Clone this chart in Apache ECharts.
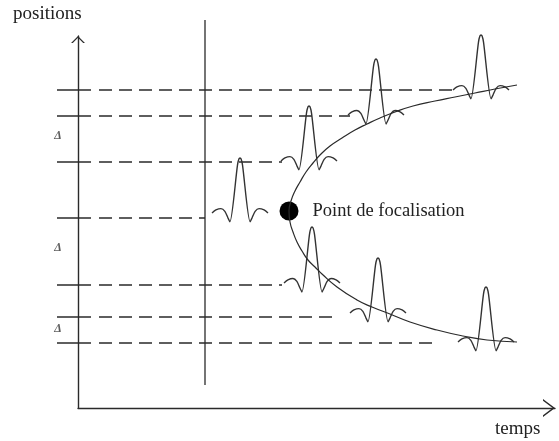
<!DOCTYPE html>
<html>
<head>
<meta charset="utf-8">
<script src="https://cdn.jsdelivr.net/npm/echarts@6/dist/echarts.min.js"></script>
<style>
html,body{margin:0;padding:0;background:#fff;}
#chart{width:559px;height:441px;}
</style>
</head>
<body>
<div id="chart"></div>
<script>
// ---- data (time units on x, position units on y) ----
var rowPositions = [318, 292, 246, 190, 123, 91, 65];
var rowEndTimes  = [374, 272, 204, 127, 204, 261, 359];
var rowStartTime = -21;
var rowTickEnd = 13;
var rowDashStart = 21;

var barrierTime = 127;
var barrierFrom = 23;
var barrierTo = 388;

var pulseTimes     = [162, 231, 298, 403, 234, 300, 408];
var pulsePositions = [195, 247, 293, 318, 125, 95, 66];
var pulseAmplitudes = [55, 55, 56, 55, 56, 55, 55];
var pulseHalfWidth = 28;
// normalised waveform
var pulseShapeU = [-1,-0.86,-0.68,-0.54,-0.43,-0.36,-0.09,-0.04,0,0.04,0.09,0.36,0.43,0.54,0.68,0.86,1];
var pulseShapeV = [0,0.055,0.08,0.03,-0.09,-0.16,0.87,0.98,1,0.98,0.87,-0.16,-0.09,0.03,0.08,0.055,0];

var curveTimes     = [439,409,385,359,332,312,294,279,259,244,237,230,224,219,215,212,211,213,217,222,228,235,242,252,264,277,289,302,317,335,357,377,397,417,439];
var curvePositions = [66,68,72,78,86,94,101,108,121,134,141,148,157,166,176,186,197,207,217,226,236,245,253,262,270,278,284,290,296,302,307,311,315,319,323];

var focusPoint = [211, 197];
var focusLabel = 'Point de focalisation';

var deltaTimes = [-20, -20, -20];
var deltaPositions = [272, 160, 79];

var xLabel = 'temps';
var yLabel = 'positions';

// ---- chart ----
var ink = '#2a2a2a';
var series = [];
function onDraw(s) { s.xAxisIndex = 1; s.yAxisIndex = 1; s.clip = false; s.silent = true; return s; }

series.push(onDraw({
  type: 'line', symbol: 'none',
  data: [[barrierTime, barrierFrom], [barrierTime, barrierTo]],
  lineStyle: {color: ink, width: 1.3}
}));

rowPositions.forEach(function (p, i) {
  series.push(onDraw({
    type: 'line', symbol: 'none',
    data: [[rowStartTime, p], [rowTickEnd, p]],
    lineStyle: {color: ink, width: 1.3}
  }));
  series.push(onDraw({
    type: 'line', symbol: 'none',
    data: [[rowDashStart, p], [rowEndTimes[i], p]],
    lineStyle: {color: ink, width: 1.3, type: [13, 7]}
  }));
});

pulseTimes.forEach(function (t, i) {
  var d = pulseShapeU.map(function (u, k) {
    return [t + u * pulseHalfWidth, pulsePositions[i] + pulseShapeV[k] * pulseAmplitudes[i]];
  });
  series.push(onDraw({
    type: 'line', symbol: 'none',
    data: d, smooth: 0.25,
    lineStyle: {color: '#333', width: 1.4}
  }));
});

series.push(onDraw({
  type: 'line', symbol: 'none', smooth: true,
  data: curveTimes.map(function (t, i) { return [t, curvePositions[i]]; }),
  lineStyle: {color: ink, width: 1.2}
}));

series.push(onDraw({
  type: 'scatter',
  data: [focusPoint], symbolSize: 19,
  itemStyle: {color: '#000', opacity: 1},
  label: {
    show: true, position: 'right', distance: 14,
    formatter: focusLabel,
    fontFamily: 'Liberation Serif', fontSize: 18.5, color: '#222'
  }
}));

series.push(onDraw({
  type: 'scatter',
  data: deltaTimes.map(function (t, i) { return [t, deltaPositions[i]]; }),
  symbolSize: 1, itemStyle: {color: 'rgba(0,0,0,0)'},
  label: {
    show: true, position: 'inside', formatter: 'Δ',
    fontFamily: 'Liberation Serif', fontStyle: 'italic', fontWeight: 'bold',
    fontSize: 12, color: '#333'
  }
}));

var hidden = {show: false};
var chart = echarts.init(document.getElementById('chart'), null, {renderer: 'canvas'});
chart.setOption({
  animation: false,
  backgroundColor: '#fff',
  grid: [
    {left: 78, top: 36, width: 477, height: 372, containLabel: false},
    {left: 57, top: 20, width: 498, height: 388, containLabel: false}
  ],
  xAxis: [{
    gridIndex: 0, type: 'value', min: 0, max: 477,
    axisLine: {
      show: true, onZero: false,
      lineStyle: {color: ink, width: 1.4},
      symbol: ['none', 'path://M0,12 L9,0 L18,12 L16.2,12 L9,2.4 L1.8,12 Z'],
      symbolSize: [18, 12], symbolOffset: [0, -6]
    },
    axisTick: hidden, axisLabel: hidden, splitLine: hidden
  }, {
    gridIndex: 1, type: 'value', min: -21, max: 477,
    axisLine: hidden, axisTick: hidden, axisLabel: hidden, splitLine: hidden
  }],
  yAxis: [{
    gridIndex: 0, type: 'value', min: 0, max: 372,
    axisLine: {
      show: true, onZero: false,
      lineStyle: {color: ink, width: 1.4},
      symbol: ['none', 'path://M0,7 L7,0 L14,7 L12.2,7 L7,1.8 L1.8,7 Z'],
      symbolSize: [14, 7], symbolOffset: [0, -3.5]
    },
    axisTick: hidden, axisLabel: hidden, splitLine: hidden
  }, {
    gridIndex: 1, type: 'value', min: 0, max: 388,
    axisLine: hidden, axisTick: hidden, axisLabel: hidden, splitLine: hidden
  }],
  graphic: [
    {type: 'text', left: 13, top: 5, style: {text: yLabel, font: '19px "Liberation Serif"', fill: '#222'}},
    {type: 'text', left: 495, top: 420, style: {text: xLabel, font: '19px "Liberation Serif"', fill: '#222'}}
  ],
  series: series
});
</script>
</body>
</html>
